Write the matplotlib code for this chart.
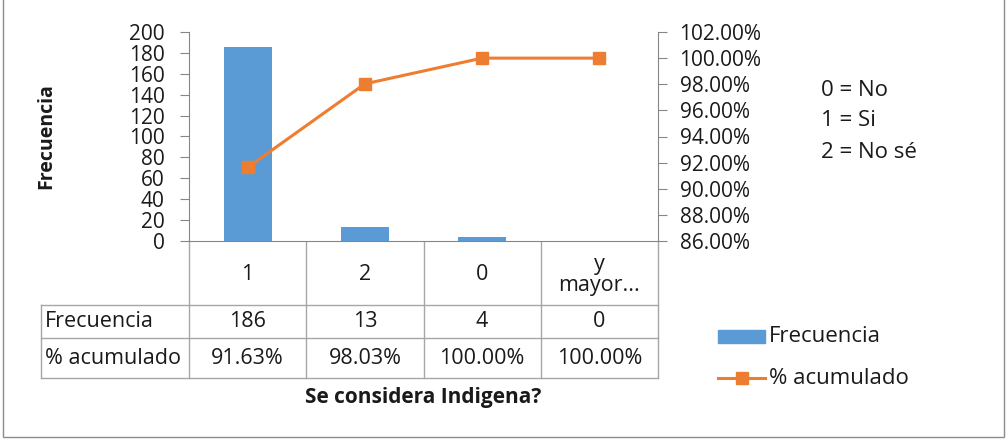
import matplotlib.pyplot as plt
from matplotlib.patches import Rectangle
from matplotlib.ticker import FuncFormatter

plt.rcParams['font.family'] = ['Open Sans', 'DejaVu Sans']

categorias = ['1', '2', '0', 'y\nmayor...']
frecuencia = [186, 13, 4, 0]
acumulado = [0.9163, 0.9803, 1.0, 1.0]
filas = ['Frecuencia', '% acumulado']
codigos = ['0 = No', '1 = Si', '2 = No sé']

azul = '#5B9BD5'
naranja = '#ED7D31'
gris = '#868686'
texto = '#1a1a1a'

W, H = 1008, 440
fig = plt.figure(figsize=(W / 100, H / 100), dpi=100)

# capa de dibujo en pixeles para el marco, la tabla y la leyenda
bg = fig.add_axes([0, 0, 1, 1])
bg.set_xlim(0, W)
bg.set_ylim(H, 0)
bg.axis('off')
bg.add_patch(Rectangle((3, -5), 1001, 442, fill=False, ec='#8c8c8c', lw=1))

x0, x1, ytop, ybot = 189, 658, 32, 241
ax = fig.add_axes([x0 / W, 1 - ybot / H, (x1 - x0) / W, (ybot - ytop) / H])
pos = list(range(len(categorias)))
ax.bar(pos, frecuencia, width=0.41, color=azul, zorder=2)
ax.set_xlim(-0.5, len(categorias) - 0.5)
ax.set_ylim(0, 200)
ax.set_yticks(range(0, 201, 20))
ax.set_xticks([])
for s in ['top', 'right']:
    ax.spines[s].set_visible(False)
ax.spines['left'].set_color(gris)
ax.spines['bottom'].set_color(gris)
ax.tick_params(axis='y', direction='out', length=6.5, color=gris, labelsize=15,
               labelcolor=texto, pad=11)
ax.set_ylabel('Frecuencia', fontsize=14, fontweight='bold', color=texto, labelpad=52)

ax2 = ax.twinx()
ax2.plot(pos, acumulado, color=naranja, lw=2.2, marker='s', markersize=8, zorder=3)
ax2.set_ylim(0.86, 1.02)
ax2.set_yticks([0.86 + 0.02 * i for i in range(9)])
ax2.yaxis.set_major_formatter(FuncFormatter(lambda v, p: f'{v:.2%}'))
for s in ['top', 'left', 'bottom']:
    ax2.spines[s].set_visible(False)
ax2.spines['right'].set_color(gris)
ax2.tick_params(axis='y', direction='out', length=6.5, color=gris, labelsize=15,
                labelcolor=texto, pad=9)

# tabla de datos
col_edges = [x0 + (x1 - x0) * i / len(categorias) for i in range(len(categorias) + 1)]
row_edges = [241, 305, 338, 378]
lx = 41
tc = '#a6a6a6'
for xe in col_edges:
    bg.plot([xe, xe], [row_edges[0], row_edges[-1]], color=tc, lw=1)
bg.plot([lx, lx], [row_edges[1], row_edges[-1]], color=tc, lw=1)
for ye in row_edges[1:]:
    bg.plot([lx, x1], [ye, ye], color=tc, lw=1)

fs = 15.5
for i, c in enumerate(categorias):
    cx = (col_edges[i] + col_edges[i + 1]) / 2
    bg.text(cx, (row_edges[0] + row_edges[1]) / 2 + 2, c, ha='center', va='center',
            fontsize=fs, color=texto, linespacing=1.05)
    bg.text(cx, (row_edges[1] + row_edges[2]) / 2, str(frecuencia[i]), ha='center',
            va='center', fontsize=fs, color=texto)
    bg.text(cx, (row_edges[2] + row_edges[3]) / 2, f'{acumulado[i]:.2%}', ha='center',
            va='center', fontsize=fs, color=texto)
for j, f in enumerate(filas):
    bg.text(lx + 4, (row_edges[j + 1] + row_edges[j + 2]) / 2, f, ha='left',
            va='center', fontsize=fs, color=texto)

bg.text((x0 + x1) / 2, 397, 'Se considera Indigena?', ha='center', va='center',
        fontsize=15, fontweight='bold', color=texto)

for k, t in enumerate(codigos):
    bg.text(821, 90 + 31 * k, t, ha='left', va='center', fontsize=16, color=texto)

# leyenda
bg.add_patch(Rectangle((718, 330), 47, 13, color=azul))
bg.text(769, 336, 'Frecuencia', ha='left', va='center', fontsize=16, color=texto)
bg.plot([718, 765], [378, 378], color=naranja, lw=2.2)
bg.plot([741.5], [378], color=naranja, marker='s', markersize=8)
bg.text(769, 378, '% acumulado', ha='left', va='center', fontsize=16, color=texto)

fig.savefig('out.png', dpi=100)
